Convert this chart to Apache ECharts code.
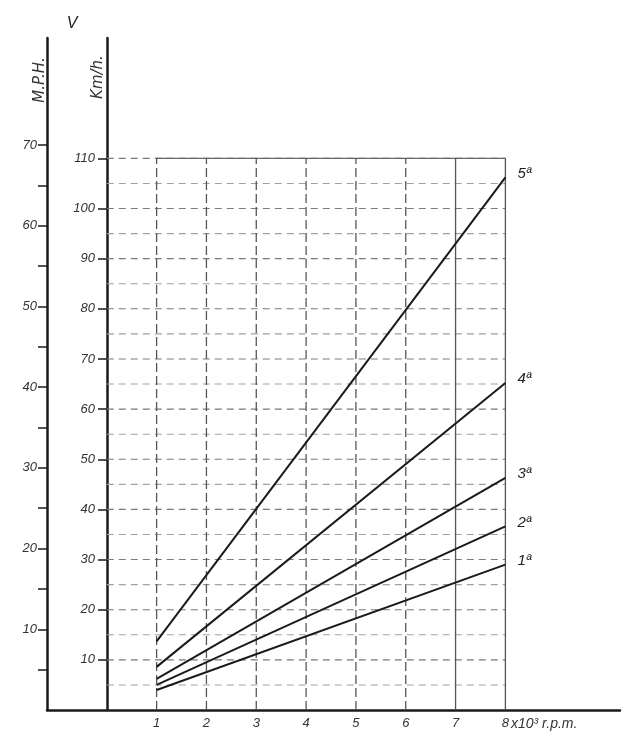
<!DOCTYPE html>
<html>
<head>
<meta charset="utf-8">
<script src="https://cdn.jsdelivr.net/npm/echarts@6/dist/echarts.min.js"></script>
<style>
html,body{margin:0;padding:0;background:#fff;}
#c{width:625px;height:740px;}
</style>
</head>
<body>
<div id="c"></div>
<script>
// ---- data ----
const gears = ['1ª', '2ª', '3ª', '4ª', '5ª'];
const rpmStart = 1;   // x10³ r.p.m.
const rpmEnd = 8;
const kmhAtStart = [4.0, 5.0, 6.2, 8.6, 13.7];
const kmhAtEnd = [29.0, 36.6, 46.3, 65.2, 106.2];
const rpmTicks = [1, 2, 3, 4, 5, 6, 7, 8];
const kmhLabels = [10, 20, 30, 40, 50, 60, 70, 80, 90, 100, 110];
const kmhGridLines = [5, 10, 15, 20, 25, 30, 35, 40, 45, 50, 55, 60, 65, 70, 75, 80, 85, 90, 95, 100, 105, 110];
const mphLabels = [10, 20, 30, 40, 50, 60, 70];
const mphTicks = [5, 10, 15, 20, 25, 30, 35, 40, 45, 50, 55, 60, 65, 70];
const KMH_PER_MPH = 1.609344;

// ---- chart ----
const xMin = -1.2, xMax = 10.3, yMax = 134;
const labelFont = { fontFamily: 'Liberation Sans', fontStyle: 'italic', fontSize: 13, color: '#333' };
const solidVert = [7, 8];

const series = [];
kmhGridLines.forEach(v => {
  series.push({
    type: 'line', xAxisIndex: 0, yAxisIndex: 0, silent: true, symbol: 'none', z: 1,
    data: [[0, v], [rpmEnd, v]],
    lineStyle: { color: (v % 10 === 0) ? '#7a7a7a' : '#a0a0a0', width: 1.1, type: [7, 5] }
  });
});
series.push({
  type: 'line', xAxisIndex: 0, yAxisIndex: 0, silent: true, symbol: 'none', z: 1,
  data: [[rpmStart, 110], [rpmEnd, 110]],
  lineStyle: { color: '#666', width: 1.3, type: 'solid' }
});
rpmTicks.forEach(r => {
  series.push({
    type: 'line', xAxisIndex: 0, yAxisIndex: 0, silent: true, symbol: 'none', z: 1,
    data: [[r, 0], [r, 110]],
    lineStyle: { color: '#555', width: 1.3, type: solidVert.includes(r) ? 'solid' : [9, 4] }
  });
});
gears.forEach((g, i) => {
  series.push({
    type: 'line', name: g, xAxisIndex: 0, yAxisIndex: 0, symbol: 'none', z: 5,
    data: [[rpmStart, kmhAtStart[i]], [rpmEnd, kmhAtEnd[i]]],
    lineStyle: { color: '#1a1a1a', width: 2 },
    endLabel: {
      show: true, formatter: g, distance: 12, offset: [0, -4],
      fontFamily: 'Liberation Sans', fontStyle: 'italic', fontSize: 15, color: '#222'
    }
  });
});

const chart = echarts.init(document.getElementById('c'), null, { renderer: 'canvas' });
chart.setOption({
  backgroundColor: '#ffffff',
  animation: false,
  grid: { left: 47, right: 5, top: 38, bottom: 30, containLabel: false },
  xAxis: [{
    type: 'value', min: xMin, max: xMax,
    axisLine: { show: true, onZero: false, lineStyle: { color: '#1a1a1a', width: 2.5 } },
    axisTick: { show: false },
    splitLine: { show: false },
    axisLabel: Object.assign({ customValues: rpmTicks, margin: 7 }, labelFont)
  }],
  yAxis: [{
    type: 'value', min: 0, max: yMax, position: 'left', offset: -60,
    axisLine: { show: true, onZero: false, lineStyle: { color: '#1a1a1a', width: 2.5 } },
    axisTick: { show: true, customValues: kmhLabels, length: 9, lineStyle: { color: '#1a1a1a', width: 1.5 } },
    splitLine: { show: false },
    axisLabel: Object.assign({ customValues: kmhLabels, margin: 12 }, labelFont)
  }, {
    type: 'value', min: 0, max: yMax / KMH_PER_MPH, position: 'left', offset: 0,
    axisLine: { show: true, onZero: false, lineStyle: { color: '#1a1a1a', width: 2.5 } },
    axisTick: { show: true, customValues: mphTicks, length: 9, lineStyle: { color: '#1a1a1a', width: 1.5 } },
    splitLine: { show: false },
    axisLabel: Object.assign({ customValues: mphLabels, margin: 10 }, labelFont)
  }],
  graphic: [
    { type: 'text', x: 72, y: 24, style: { text: 'V', fontFamily: 'Liberation Sans', fontStyle: 'italic', fontSize: 16, fill: '#222', align: 'center', verticalAlign: 'middle' } },
    { type: 'text', x: 40, y: 80, rotation: Math.PI / 2, style: { text: 'M.P.H.', fontFamily: 'DejaVu Sans', fontStyle: 'italic', fontSize: 15, fill: '#333', align: 'center', verticalAlign: 'middle' } },
    { type: 'text', x: 98, y: 77, rotation: Math.PI / 2, style: { text: 'Km/h.', fontFamily: 'DejaVu Sans', fontStyle: 'italic', fontSize: 15, fill: '#333', align: 'center', verticalAlign: 'middle' } },
    { type: 'text', x: 511, y: 724, style: { text: 'x10³ r.p.m.', fontFamily: 'Liberation Sans', fontStyle: 'italic', fontSize: 14, fill: '#333', align: 'left', verticalAlign: 'middle' } }
  ],
  series: series
});
</script>
</body>
</html>
